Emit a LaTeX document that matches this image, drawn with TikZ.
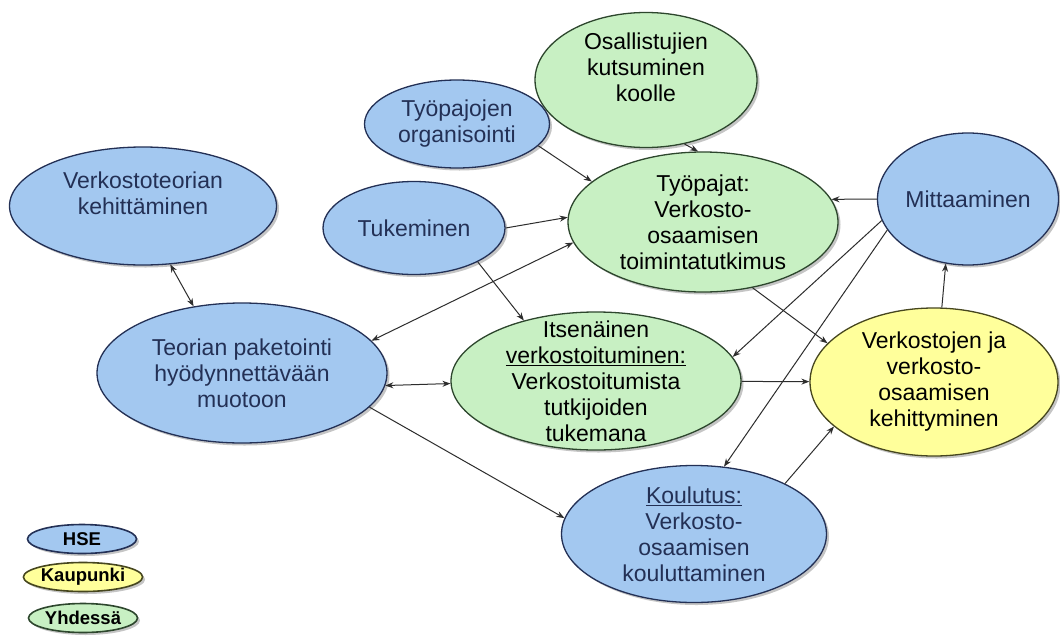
\documentclass[tikz,border=0pt]{standalone}
\usepackage{fontspec}
\setmainfont{Liberation Sans}
\usetikzlibrary{shapes.geometric, arrows.meta, shadows}

\definecolor{hseblue}{RGB}{163,200,240}
\definecolor{hseline}{RGB}{35,48,85}
\definecolor{yhgreen}{RGB}{200,240,195}
\definecolor{yhline}{RGB}{45,70,45}
\definecolor{kpyellow}{RGB}{255,255,155}
\definecolor{kpline}{RGB}{70,70,30}
\definecolor{arrowgray}{RGB}{45,45,45}

\tikzset{
  bubble/.style={ellipse, draw, line width=1.3pt, inner xsep=0pt, inner ysep=-20pt, align=center,
    font=\fontsize{23}{26}\selectfont,
    drop shadow={shadow xshift=2.5pt, shadow yshift=-2.5pt, fill=black!45, opacity=.5}},
  hse/.style={bubble, fill=hseblue, draw=hseline, text=hseline},
  yhdessa/.style={bubble, fill=yhgreen, draw=yhline, text=black},
  kaupunki/.style={bubble, fill=kpyellow, draw=kpline, text=black},
  legendbox/.style={minimum width=109pt, minimum height=29pt, line width=1.6pt, text=black,
    font=\fontsize{18.5}{20}\selectfont\bfseries},
  link/.style={draw=arrowgray, line width=1pt}
}

\begin{document}
\begin{tikzpicture}[x=1pt, y=-1pt, >={Stealth[length=8pt, width=6pt]}]
    \path[use as bounding box, fill=white] (0,0) rectangle (1060,640);

    % HSE
    \node (teoria) [hse, minimum width=267pt, minimum height=118pt] at (143,206) {Verkostoteorian\\kehittäminen\\ \mbox{}};
    \node (paketointi) [hse, minimum width=290pt, minimum height=140pt] at (242,373) {Teorian paketointi\\hyödynnettävään\\muotoon};
    \node (organisointi) [hse, minimum width=185pt, minimum height=88pt] at (457,124) {Työpajojen\\organisointi};
    \node (tukeminen) [hse, minimum width=182pt, minimum height=93pt] at (414,228) {Tukeminen};
    \node (mittaaminen) [hse, minimum width=181pt, minimum height=132pt] at (968,199) {Mittaaminen};
    \node (koulutus) [hse, minimum width=265pt, minimum height=137pt] at (694,534) {\underline{Koulutus:}\\Verkosto-\\osaamisen\\kouluttaminen};

    % Yhdessä
    \node (osallistujat) [yhdessa, minimum width=222pt, minimum height=135pt] at (646,80) {Osallistujien\\kutsuminen\\koolle\\ \mbox{}};
    \node (tyopajat) [yhdessa, minimum width=270pt, minimum height=140pt] at (703,222) {Työpajat:\\Verkosto-\\osaamisen\\toimintatutkimus};
    \node (itsenainen) [yhdessa, minimum width=290pt, minimum height=138pt] at (596,381) {Itsenäinen\\\underline{verkostoituminen:}\\Verkostoitumista\\tutkijoiden\\tukemana};

    % Kaupunki
    \node (kehittyminen) [kaupunki, minimum width=248pt, minimum height=148pt] at (934,382) {Verkostojen ja\\verkosto-\\osaamisen\\kehittyminen};

    % Legend
    \node (leg_hse) [hse, legendbox] at (82,539) {HSE};
    \node (leg_kaupunki) [kaupunki, legendbox] at (83,577) {Kaupunki};
    \node (leg_yhdessa) [yhdessa, legendbox] at (83,618) {Yhdessä};

    % Arrows
    \draw[link, <->] (teoria.-65) -- (paketointi.126);
    \draw[link, ->] (organisointi.-15) -- (tyopajat.160);
    \draw[link, ->] (osallistujat.-59) -- (tyopajat.94);
    \draw[link, ->] (tukeminen.0) -- (tyopajat.178);
    \draw[link, <->] (paketointi.14) -- (tyopajat.189);
    \draw[link, ->] (tukeminen.-28) -- (itsenainen.140);
    \draw[link, <->] (paketointi.-5) -- (itsenainen.181);
    \draw[link, ->] (paketointi.-15) -- (koulutus.173);
    \draw[link, ->] (tyopajat.-53) -- (kehittyminen.160);
    \draw[link, ->] (mittaaminen.180) -- (tyopajat.10);
    \draw[link, ->] (mittaaminen.194) -- (itsenainen.10);
    \draw[link, ->] (mittaaminen.201) -- (koulutus.66);
    \draw[link, ->] (itsenainen) -- (kehittyminen);
    \draw[link, ->] (koulutus.29) -- (kehittyminen.204);
    \draw[link, ->] (kehittyminen.84) -- (mittaaminen.251);
\end{tikzpicture}
\end{document}
